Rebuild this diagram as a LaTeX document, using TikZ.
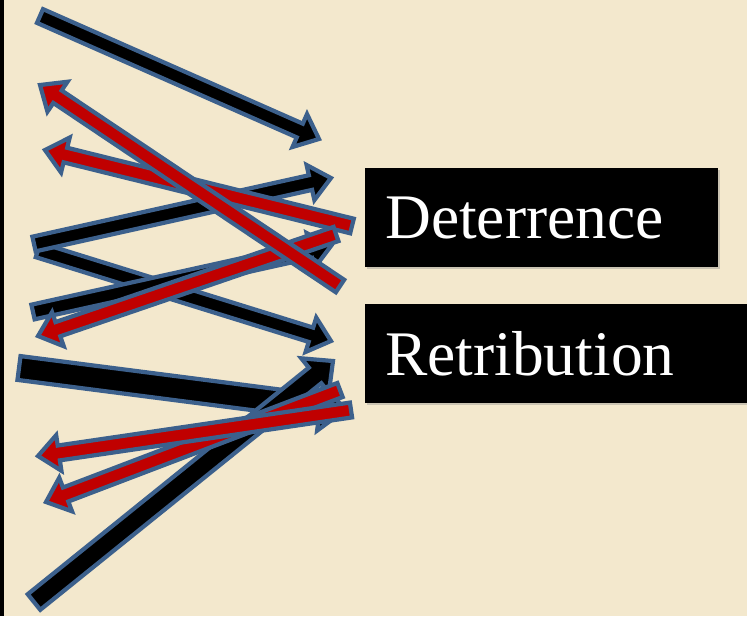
\documentclass[tikz,border=0pt]{standalone}
\usepackage{fontspec}
\setmainfont{Liberation Serif}
\usetikzlibrary{shadows}
\definecolor{bgbeige}{RGB}{243,232,205}
\definecolor{arrblue}{RGB}{60,96,140}
\definecolor{arrred}{RGB}{192,0,0}
\tikzset{
  arrowline/.style={draw=arrblue, line width=4.2pt, line join=miter, miter limit=6},
  labelbox/.style={fill=black, text=white, anchor=north west, inner xsep=20pt, inner ysep=0pt,
    minimum height=99pt, align=left, font=\fontsize{63.5}{70}\selectfont,
    drop shadow={shadow xshift=2pt, shadow yshift=-2pt, opacity=0.35}},
}
% #1 name, #2 #3 tail, #4 #5 tip, #6 fill, #7 shaft half width, #8 head length, #9 head half width
\newcommand\blockarr[9]{%
  \pgfmathsetmacro\bdx{#4-#2}%
  \pgfmathsetmacro\bdy{#5-#3}%
  \pgfmathsetmacro\blen{veclen(\bdx,\bdy)}%
  \pgfmathsetmacro\bang{atan2(-\bdy,\bdx)}%
  \pgfmathsetmacro\bneck{\blen-#8}%
  \coordinate (#1-tail) at (#2,#3);
  \coordinate (#1-tip) at (#4,#5);
  \begin{scope}[shift={(#1-tail)}, rotate=\bang]
    \draw[arrowline, fill=#6] (0,-#7) -- (\bneck,-#7) -- (\bneck,-#9) -- (\blen,0)
      -- (\bneck,#9) -- (\bneck,#7) -- (0,#7) -- cycle;
  \end{scope}}
\begin{document}
\begin{tikzpicture}[x=1pt,y=-1pt]
\useasboundingbox (0,0) rectangle (747,616);
\clip (0,0) rectangle (747,616);
\fill[bgbeige] (0,0) rectangle (747,616);
\fill[black] (0,0) rectangle (4,616);

\node[labelbox, text width=313pt] (det) at (365,168) {Deterrence};
\node[labelbox, text width=360pt] (ret) at (365,304) {Retribution};

% upper group
\blockarr{a1}{40}{16}{319}{139}{black}{7.5}{21}{18}
\blockarr{a5}{38}{250}{331}{341}{black}{7.5}{21}{18}
\blockarr{a4}{34}{244}{331}{178}{black}{7.5}{21}{18}
\blockarr{a6}{33}{312}{331}{246}{black}{7.5}{21}{18}
\blockarr{a3}{352}{226}{45}{150}{arrred}{7.5}{21}{18}
\blockarr{a7}{336}{234}{38}{336}{arrred}{7.5}{21}{18}
\blockarr{a2}{340}{286}{40}{85}{arrred}{7.5}{21}{18}
% lower group
\blockarr{a8}{19}{368}{345}{410}{black}{12}{25}{24}
\blockarr{a9}{34}{602}{333}{361}{black}{10}{23}{22}
\blockarr{a11}{340}{390}{46}{502}{arrred}{7.5}{21}{18}
\blockarr{a10}{351}{410}{38}{456}{arrred}{7.5}{21}{18}
\end{tikzpicture}
\end{document}
